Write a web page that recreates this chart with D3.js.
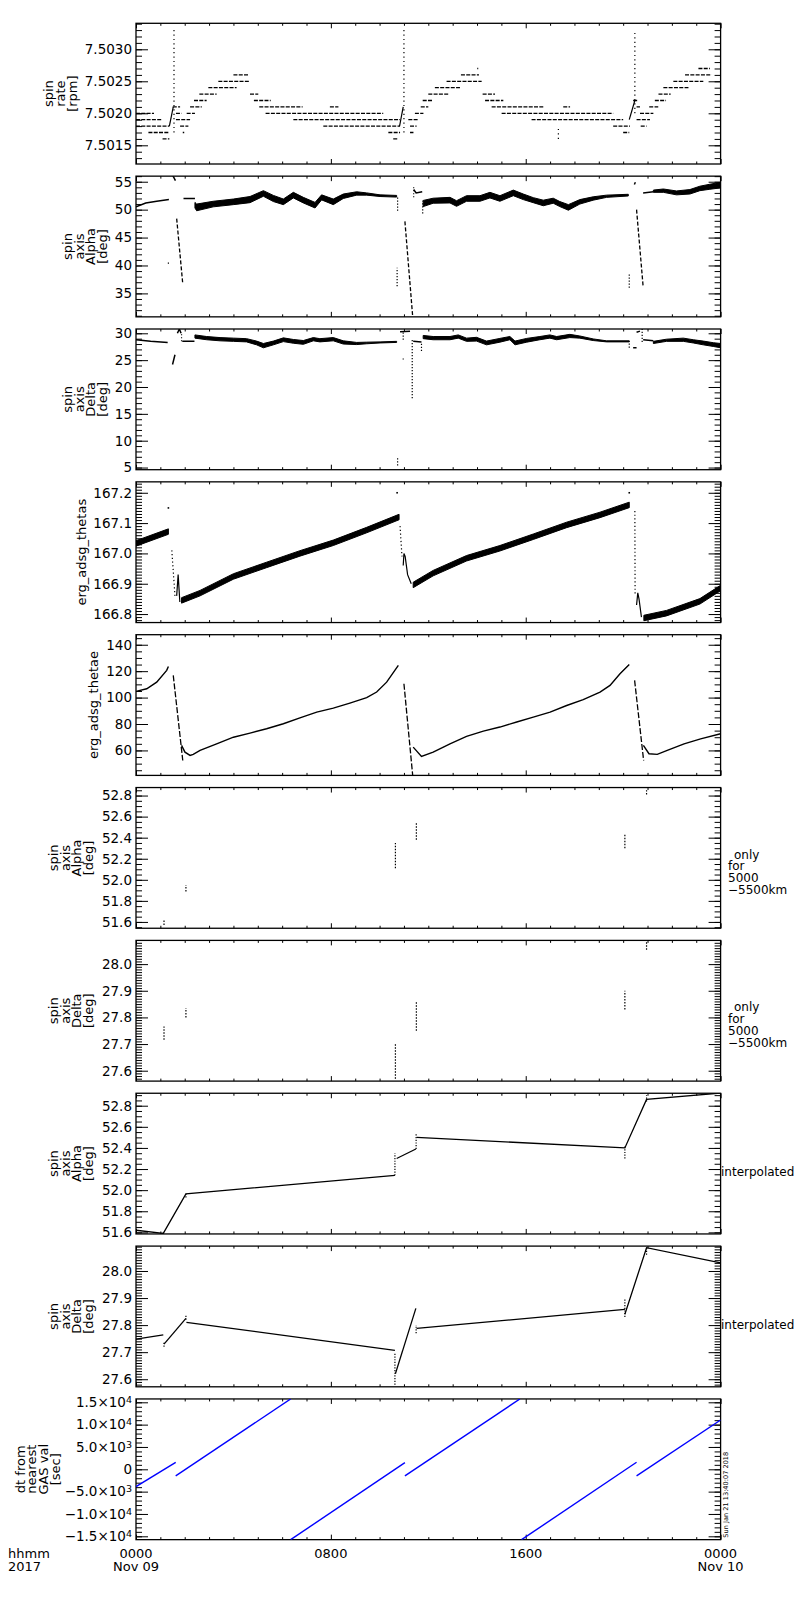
<!DOCTYPE html>
<html>
<head>
<meta charset="utf-8">
<script src="https://cdn.jsdelivr.net/npm/d3@7"></script>
<style>
  body { margin: 0; background: #fff; }
  text { font-family: "DejaVu Sans", sans-serif; fill: #000; }
</style>
</head>
<body>
<div id="chart"></div>
<script>
// time axis, hours from 2017-11-09 0000
const hourTicks = d3.range(0, 25);
const majorHours = [0, 8, 16, 24];
const hourLabels = ["0000", "0800", "1600", "0000"];
const dayLabels = ["Nov 09", "", "", "Nov 10"];

// panel 1: spin rate [rpm]; runs of quantised samples [from h, to h, rpm]
const rateDomain = [7.501208, 7.503406];
const rateTicks = [7.5015, 7.5020, 7.5025, 7.5030];
const rateRuns = [
  [0, 0.74, 7.5020], [0, 1.08, 7.5019], [0, 1.37, 7.5018], [0.51, 1.33, 7.5017], [1.09, 1.37, 7.5016],
  [1.51, 1.81, 7.5021], [1.64, 1.87, 7.5020], [2.08, 2.42, 7.5020], [1.64, 2.22, 7.5019], [1.81, 2.15, 7.5018], [1.92, 1.98, 7.5017],
  [2.22, 2.70, 7.5021], [2.38, 2.90, 7.5022], [2.60, 3.31, 7.5023], [2.97, 4.13, 7.5024], [3.38, 4.68, 7.5025], [4.00, 4.61, 7.5026],
  [4.68, 5.02, 7.5023], [4.84, 5.53, 7.5022], [5.06, 6.84, 7.5021], [7.96, 8.31, 7.5021], [5.32, 10.15, 7.5020],
  [6.46, 10.84, 7.5019], [7.69, 10.84, 7.5018], [10.36, 10.84, 7.5017], [10.56, 10.77, 7.5016],
  [11.18, 11.59, 7.5019], [11.25, 11.52, 7.5018], [11.25, 11.39, 7.5017], [11.45, 11.80, 7.5020], [11.69, 12.00, 7.5021],
  [11.77, 12.20, 7.5022], [12.00, 12.82, 7.5023], [12.27, 13.30, 7.5024], [12.75, 14.19, 7.5025], [13.34, 14.08, 7.5026], [14.01, 14.05, 7.5027],
  [14.23, 14.74, 7.5023], [14.33, 15.08, 7.5022], [14.60, 16.72, 7.5021], [17.54, 17.82, 7.5021], [15.01, 19.59, 7.5020],
  [16.24, 20.00, 7.5019], [19.59, 20.28, 7.5018], [20.00, 20.25, 7.5017],
  [20.41, 20.62, 7.5022], [20.55, 20.69, 7.5021], [21.07, 21.44, 7.5021], [20.69, 21.24, 7.5020], [20.55, 21.10, 7.5019], [20.72, 20.96, 7.5018],
  [21.30, 21.76, 7.5022], [21.45, 21.95, 7.5023], [21.65, 22.68, 7.5024], [22.06, 23.29, 7.5025], [22.54, 23.63, 7.5026], [23.09, 23.56, 7.5027]
];
const rateRamps = [[[1.37, 7.5018], [1.53, 7.5021]], [[10.82, 7.5018], [10.97, 7.5021]], [[20.25, 7.5019], [20.48, 7.5022]]];
const rateSpikes = [[1.56, 7.5017, 7.50331], [11.0, 7.5017, 7.5033], [17.34, 7.5016, 7.5018], [20.48, 7.5020, 7.5033]];

// panel 2: spin axis alpha [deg]; bands are [h, value, half width of scatter]
const alphaDomain = [30.8, 56.0];
const alphaTicks = [35, 40, 45, 50, 55];
const alphaBands = [
  [[2.42, 50.8, 0.5], [2.49, 50.4, 0.6], [3.17, 51.0, 0.5], [4.0, 51.4, 0.5], [4.68, 51.8, 0.55], [5.23, 52.9, 0.5], [5.64, 52.0, 0.55],
   [6.05, 51.4, 0.5], [6.46, 52.6, 0.5], [6.87, 51.7, 0.5], [7.35, 50.8, 0.5], [7.62, 52.2, 0.45], [8.10, 51.4, 0.5], [8.51, 52.4, 0.4],
   [9.06, 52.9, 0.3], [9.47, 52.8, 0.2], [10.02, 52.5, 0.15], [10.70, 52.4, 0.15]],
  [[11.79, 51.1, 0.55], [12.20, 51.6, 0.45], [12.89, 51.7, 0.5], [13.16, 51.1, 0.5], [13.57, 52.0, 0.5], [14.12, 52.0, 0.5], [14.53, 52.6, 0.5],
   [14.94, 52.0, 0.5], [15.49, 53.0, 0.5], [15.90, 52.3, 0.5], [16.31, 51.7, 0.45], [16.72, 51.2, 0.5], [17.13, 51.6, 0.45], [17.40, 51.0, 0.45],
   [17.75, 50.4, 0.5], [18.22, 51.4, 0.4], [18.77, 52.0, 0.3], [19.32, 52.4, 0.2], [20.21, 52.6, 0.15]],
  [[21.24, 53.3, 0.2], [21.65, 53.4, 0.3], [22.19, 53.0, 0.35], [22.74, 53.2, 0.4], [23.15, 53.8, 0.4], [23.56, 54.1, 0.45], [24.0, 54.4, 0.5]]
];
const alphaLines = [
  [[0, 50.5], [0.4, 51.2], [0.85, 51.5], [1.35, 51.8]], [[1.95, 52.0], [2.42, 52.0]], [[11.4, 53.6], [11.5, 53.0], [11.75, 53.2]],
  [[20.82, 53.0], [21.24, 53.2]], [[1.5, 56.2], [1.62, 55.2]], [[20.46, 54.5], [20.5, 54.9]]
];
const alphaDrops = [[[1.67, 48.4], [1.92, 36.7]], [[11.04, 47.9], [11.36, 30.8]], [[20.55, 50.0], [20.82, 36.2]]];
const alphaSticks = [[1.33, 40.3, 40.7], [10.72, 36.3, 39.6], [10.74, 49.8, 52.4], [11.4, 52.2, 54.2], [11.77, 49.3, 51.6], [20.25, 36.0, 38.5]];

// panel 3: spin axis delta [deg]
const deltaDomain = [4.6, 30.8];
const deltaTicks = [5, 10, 15, 20, 25, 30];
const deltaBands = [
  [[2.42, 29.4, 0.3], [2.90, 29.1, 0.3], [3.45, 28.9, 0.3], [4.0, 28.8, 0.3], [4.54, 28.7, 0.3], [4.95, 28.2, 0.35], [5.23, 27.7, 0.4],
   [5.64, 28.2, 0.35], [6.05, 28.8, 0.35], [6.46, 28.5, 0.35], [6.87, 28.3, 0.35], [7.28, 28.9, 0.3], [7.55, 28.7, 0.3], [8.10, 28.9, 0.3],
   [8.51, 28.3, 0.3], [9.06, 28.1, 0.2], [9.47, 28.2, 0.15], [10.02, 28.3, 0.1], [10.70, 28.4, 0.1]],
  [[11.79, 29.3, 0.3], [12.20, 29.1, 0.3], [12.89, 29.1, 0.3], [13.23, 29.4, 0.3], [13.57, 28.8, 0.3], [13.98, 28.9, 0.35], [14.39, 28.2, 0.35],
   [14.94, 28.7, 0.35], [15.35, 29.1, 0.3], [15.56, 28.2, 0.35], [16.04, 28.7, 0.35], [16.58, 29.1, 0.3], [16.99, 29.4, 0.3], [17.27, 29.1, 0.3],
   [17.81, 29.5, 0.3], [18.22, 29.3, 0.2], [18.77, 28.8, 0.15], [19.32, 28.5, 0.1], [20.25, 28.5, 0.1]],
  [[21.24, 28.3, 0.2], [21.78, 28.7, 0.2], [22.47, 28.8, 0.3], [22.88, 28.5, 0.3], [23.29, 28.2, 0.35], [23.70, 27.9, 0.35], [24.0, 27.7, 0.4]]
];
const deltaLines = [
  [[0, 28.8], [0.6, 28.5], [1.3, 28.3]], [[1.5, 24.2], [1.6, 26.0]], [[1.7, 30.0], [1.78, 30.8], [1.85, 30.0]], [[1.9, 28.5], [2.4, 28.5]],
  [[10.84, 30.3], [11.25, 30.4]], [[11.38, 28.5], [11.72, 28.4]], [[20.41, 27.3], [20.55, 27.3]], [[20.55, 30.2], [20.69, 30.4]],
  [[20.82, 28.8], [21.24, 28.6]]
];
const deltaSticks = [[1.87, 28.5, 30.0], [10.74, 5.4, 7.0], [10.97, 25.1, 25.3], [10.97, 28.8, 30.3], [11.34, 17.9, 28.8],
  [11.72, 26.7, 28.4], [20.25, 27.3, 28.5], [20.78, 28.4, 30.8]];

// panel 4: erg_adsg_thetas
const thetasDomain = [166.772, 167.236];
const thetasTicks = [166.8, 166.9, 167.0, 167.1, 167.2];
const thetasBands = [
  [[0, 167.033, 0.009], [1.33, 167.072, 0.009]],
  [[1.87, 166.845, 0.009], [2.63, 166.869, 0.009], [4.0, 166.924, 0.009], [5.36, 166.962, 0.009], [6.73, 167.0, 0.009],
   [8.1, 167.035, 0.009], [9.47, 167.077, 0.009], [10.8, 167.12, 0.009]],
  [[11.38, 166.896, 0.009], [12.2, 166.935, 0.009], [13.57, 166.984, 0.009], [14.94, 167.017, 0.009], [16.31, 167.055, 0.009],
   [17.68, 167.094, 0.009], [19.05, 167.127, 0.009], [20.25, 167.16, 0.009]],
  [[20.85, 166.787, 0.009], [21.78, 166.803, 0.009], [23.15, 166.842, 0.009], [24.0, 166.886, 0.009]]
];
const thetasLines = [
  [[1.67, 166.86], [1.73, 166.93], [1.80, 166.84]],
  [[10.97, 166.96], [11.0, 167.0], [11.05, 166.99], [11.15, 166.93], [11.3, 166.9]],
  [[20.55, 166.83], [20.6, 166.87], [20.65, 166.85], [20.75, 166.79]]
];
const thetasFalls = [[[1.47, 167.01], [1.60, 166.86]], [[10.84, 167.09], [10.92, 166.99]], [[20.48, 167.14], [20.49, 166.86]]];
const thetasDots = [[1.33, 167.15], [10.72, 167.2], [20.25, 167.2]];

// panel 5: erg_adsg_thetae
const thetaeDomain = [41.1, 147.6];
const thetaeTicks = [60, 80, 100, 120, 140];
const thetaeCurves = [
  [[0, 104.7], [0.44, 106.7], [0.85, 111.7], [1.26, 120.6], [1.33, 123.6]],
  [[1.87, 63.8], [2.01, 58.7], [2.22, 56.2], [2.35, 57.0], [2.63, 60.0], [3.31, 65.0], [4.0, 70.0], [4.68, 73.1], [5.36, 76.4],
   [6.05, 80.2], [6.73, 84.7], [7.42, 89.0], [8.10, 92.0], [8.78, 95.8], [9.47, 99.9], [9.88, 104.2], [10.29, 111.7], [10.77, 124.4]],
  [[11.38, 62.5], [11.72, 55.5], [12.2, 58.7], [12.89, 65.0], [13.57, 70.6], [14.26, 74.6], [14.94, 77.7], [15.63, 81.5], [16.31, 85.2],
   [17.0, 89.0], [17.68, 94.0], [18.36, 98.4], [19.05, 104.2], [19.46, 109.2], [19.87, 118.0], [20.25, 125.1]],
  [[20.83, 63.8], [21.06, 57.5], [21.40, 57.0], [21.81, 60.0], [22.50, 65.0], [23.18, 68.8], [24.0, 72.6]]
];
const thetaeDrops = [[[1.53, 116.8], [1.92, 52.4]], [[11.0, 110.5], [11.36, 41.0]], [[20.47, 113.0], [20.84, 52.4]]];

// panels 6-7: spin axis from 5000-5500 km only, [h, low, high]
const alphaOnlyDomain = [51.54, 52.876];
const alphaOnlyTicks = [51.6, 51.8, 52.0, 52.2, 52.4, 52.6, 52.8];
const alphaOnly = [[1.15, 51.57, 51.62], [2.05, 51.89, 51.95], [10.65, 52.11, 52.35], [11.51, 52.38, 52.55], [20.07, 52.30, 52.43], [20.96, 52.81, 52.85]];
const deltaOnlyDomain = [27.561, 28.089];
const deltaOnlyTicks = [27.6, 27.7, 27.8, 27.9, 28.0];
const deltaOnly = [[1.15, 27.716, 27.766], [2.05, 27.80, 27.835], [10.65, 27.57, 27.70], [11.51, 27.75, 27.86], [20.07, 27.83, 27.90], [20.96, 28.054, 28.085]];

// panels 8-9: interpolated
const alphaIntDomain = [51.585, 52.918];
const alphaInt = [
  [[0, 51.62], [1.12, 51.59], [2.05, 51.965], [10.63, 52.14]],
  [[10.7, 52.30], [11.49, 52.39]],
  [[11.52, 52.50], [20.07, 52.40], [20.96, 52.86], [24.0, 52.92]]
];
const alphaIntSticks = [[1.12, 51.57, 51.60], [2.05, 51.93, 51.97], [10.63, 52.14, 52.35], [11.50, 52.39, 52.54], [20.07, 52.30, 52.42], [20.96, 52.84, 52.90]];
const deltaIntDomain = [27.572, 28.092];
const deltaInt = [
  [[0, 27.748], [1.12, 27.764]], [[1.15, 27.73], [2.05, 27.825]], [[2.07, 27.81], [10.63, 27.707]],
  [[10.65, 27.62], [11.49, 27.862]], [[11.52, 27.788], [20.07, 27.858]], [[20.07, 27.84], [20.96, 28.086], [24.0, 28.03]]
];
const deltaIntSticks = [[1.15, 27.72, 27.74], [2.05, 27.82, 27.84], [10.63, 27.58, 27.70], [11.50, 27.77, 27.80], [20.07, 27.83, 27.90], [20.96, 28.06, 28.09]];

// panel 10: dt from nearest GAS val [sec]
const dtDomain = [-15750, 15750];
const dtTicks = [-15000, -10000, -5000, 0, 5000, 10000, 15000];
const dtLines = [
  [[0, -3880], [1.63, 1570]], [[1.63, -1490], [6.35, 15750]], [[6.35, -15750], [11.04, 1490]],
  [[11.04, -1490], [15.76, 15750]], [[15.83, -15750], [20.55, 1570]], [[20.55, -1490], [24.0, 11040]]
];

const W = 800, H = 1600;
const left = 136, pw = 584.6, top0 = 23.3, pitch = 152.85, ph = 140.7;

const svg = d3.select("#chart").append("svg").attr("width", W).attr("height", H);
svg.append("rect").attr("width", W).attr("height", H).attr("fill", "#fff");
const x = d3.scaleLinear().domain([0, 24]).range([0, pw]);

function minorTicks(domain, step) {
  return d3.range(Math.ceil(domain[0] / step - 1e-6), Math.floor(domain[1] / step + 1e-6) + 1).map(k => +(k * step).toFixed(6));
}

function addPanel(i, domain, major, step, fmt, title, titleX) {
  const top = top0 + i * pitch;
  const g = svg.append("g").attr("transform", `translate(${left},${top})`);
  const y = d3.scaleLinear().domain(domain).range([ph, 0]);
  const minor = minorTicks(domain, step);
  const minorH = hourTicks.filter(h => !majorHours.includes(h));

  const axes = [
    [d3.axisLeft(y).tickValues(major).tickSizeInner(-12).tickPadding(4).tickFormat(fmt), 0, 0, "ylab"],
    [d3.axisLeft(y).tickValues(minor).tickSizeInner(-6).tickFormat(""), 0, 0, ""],
    [d3.axisRight(y).tickValues(major).tickSizeInner(-12).tickFormat(""), pw, 0, ""],
    [d3.axisRight(y).tickValues(minor).tickSizeInner(-6).tickFormat(""), pw, 0, ""],
    [d3.axisBottom(x).tickValues(majorHours).tickSizeInner(-5).tickFormat(""), 0, ph, ""],
    [d3.axisBottom(x).tickValues(minorH).tickSizeInner(-2.5).tickFormat(""), 0, ph, ""],
    [d3.axisTop(x).tickValues(majorHours).tickSizeInner(-5).tickFormat(""), 0, 0, ""],
    [d3.axisTop(x).tickValues(minorH).tickSizeInner(-2.5).tickFormat(""), 0, 0, ""]
  ];
  axes.forEach(([ax, tx, ty, cls]) => {
    const a = g.append("g").attr("class", cls).attr("transform", `translate(${tx},${ty})`).call(ax.tickSizeOuter(0));
    a.select(".domain").remove();
    a.attr("font-family", null).attr("font-size", 13.5);
    a.selectAll("line").attr("stroke", "#000").attr("stroke-width", 1);
    if (!cls) a.selectAll("text").remove();
  });
  g.append("rect").attr("width", pw).attr("height", ph)
    .attr("fill", "none").attr("stroke", "#000").attr("stroke-width", 1.3);

  // rotated multi-line axis title
  const n = title.length, fs = 13, lp = 11.7;
  const t = svg.append("text")
    .attr("transform", `translate(${titleX},${top + ph / 2}) rotate(-90)`)
    .attr("text-anchor", "middle").attr("font-size", fs);
  title.forEach((s, k) => t.append("tspan").attr("x", 0).attr("y", (k - (n - 1) / 2) * lp + 0.35 * fs).text(s));

  svg.append("clipPath").attr("id", "clip" + i).append("rect").attr("width", pw).attr("height", ph);
  const m = g.append("g").attr("clip-path", `url(#clip${i})`);
  return { g, m, y, top };
}

function polyline(p, pts, opts = {}) {
  return p.m.append("path")
    .attr("d", d3.line().x(d => x(d[0])).y(d => p.y(d[1]))(pts))
    .attr("fill", "none").attr("stroke", opts.color || "#000")
    .attr("stroke-width", opts.width || 1.2)
    .attr("stroke-dasharray", opts.dash || null);
}
function band(p, pts) {
  p.m.append("path")
    .attr("d", d3.area().x(d => x(d[0])).y0(d => p.y(d[1] - d[2])).y1(d => p.y(d[1] + d[2]))(pts))
    .attr("fill", "#000").attr("stroke", "#000").attr("stroke-width", 1);
}
function sticks(p, data, dash) {
  p.m.selectAll(null).data(data).join("line")
    .attr("x1", d => x(d[0])).attr("x2", d => x(d[0]))
    .attr("y1", d => p.y(d[1])).attr("y2", d => p.y(d[2]))
    .attr("stroke", "#000").attr("stroke-width", 1.2).attr("stroke-dasharray", dash);
}

const f1 = d3.format(".1f"), f0 = d3.format("d");

// 1
const p1 = addPanel(0, rateDomain, rateTicks, 0.0001, d3.format(".4f"), ["spin", "rate", "[rpm]"], 60.5);
p1.m.selectAll(null).data(rateRuns).join("line")
  .attr("x1", d => x(d[0])).attr("x2", d => x(d[1]))
  .attr("y1", d => p1.y(d[2])).attr("y2", d => p1.y(d[2]))
  .attr("stroke", "#000").attr("stroke-width", 1.3).attr("stroke-dasharray", "4,1.3");
rateRamps.forEach(r => polyline(p1, r));
sticks(p1, rateSpikes, "1.2,3.2");

// 2
const p2 = addPanel(1, alphaDomain, alphaTicks, 1, f0, ["spin", "axis", "Alpha", "[deg]"], 85);
alphaBands.forEach(b => band(p2, b));
alphaLines.forEach(l => polyline(p2, l, { width: 1.5 }));
alphaDrops.forEach(l => polyline(p2, l, { width: 1.3, dash: "4,2" }));
sticks(p2, alphaSticks, "1.2,1.8");

// 3
const p3 = addPanel(2, deltaDomain, deltaTicks, 1, f0, ["spin", "axis", "Delta", "[deg]"], 85);
deltaBands.forEach(b => band(p3, b));
deltaLines.forEach(l => polyline(p3, l, { width: 1.5 }));
sticks(p3, deltaSticks, "1.2,1.8");

// 4
const p4 = addPanel(3, thetasDomain, thetasTicks, 0.01, f1, ["erg_adsg_thetas"], 81);
thetasBands.forEach(b => band(p4, b));
thetasLines.forEach(l => polyline(p4, l, { width: 1.2 }));
thetasFalls.forEach(l => polyline(p4, l, { width: 1.2, dash: "1.2,2.5" }));
p4.m.selectAll(null).data(thetasDots).join("rect")
  .attr("x", d => x(d[0]) - 0.8).attr("y", d => p4.y(d[1]) - 0.8).attr("width", 1.6).attr("height", 1.6).attr("fill", "#000");

// 5
const p5 = addPanel(4, thetaeDomain, thetaeTicks, 5, f0, ["erg_adsg_thetae"], 93);
thetaeCurves.forEach(c => polyline(p5, c, { width: 1.4 }));
thetaeDrops.forEach(c => polyline(p5, c, { width: 1.3, dash: "6,2" }));

// 6, 7
const only = ["only", "for", "5000", "\u22125500km"];
const p6 = addPanel(5, alphaOnlyDomain, alphaOnlyTicks, 0.05, f1, ["spin", "axis", "Alpha", "[deg]"], 71);
sticks(p6, alphaOnly, "1.5,1.5");
const p7 = addPanel(6, deltaOnlyDomain, deltaOnlyTicks, 0.01, f1, ["spin", "axis", "Delta", "[deg]"], 71);
sticks(p7, deltaOnly, "1.5,1.5");
[p6, p7].forEach(p => {
  only.forEach((s, k) => svg.append("text").attr("x", k === 0 ? 734 : 728).attr("y", p.top + 71 + k * 11.7)
    .attr("font-size", 12).text(s));
});

// 8, 9
const p8 = addPanel(7, alphaIntDomain, alphaOnlyTicks, 0.05, f1, ["spin", "axis", "Alpha", "[deg]"], 71);
alphaInt.forEach(l => polyline(p8, l, { width: 1.3 }));
sticks(p8, alphaIntSticks, "1.2,1.5");
const p9 = addPanel(8, deltaIntDomain, deltaOnlyTicks, 0.01, f1, ["spin", "axis", "Delta", "[deg]"], 71);
deltaInt.forEach(l => polyline(p9, l, { width: 1.3 }));
sticks(p9, deltaIntSticks, "1.2,1.5");
[p8, p9].forEach(p => svg.append("text").attr("x", 721).attr("y", p.top + 83).attr("font-size", 12).text("interpolated"));

// 10
const p10 = addPanel(9, dtDomain, dtTicks, 1000, f0, ["dt from", "nearest", "GAS val", "[sec]"], 37.5);
dtLines.forEach(l => polyline(p10, l, { color: "#0000ff", width: 1.4 }));
p10.g.selectAll(".ylab .tick text").each(function (v) {
  const t = d3.select(this);
  t.text(null);
  if (v === 0) { t.text("0"); return; }
  const e = Math.floor(Math.log10(Math.abs(v)));
  const mant = (Math.abs(v) / Math.pow(10, e)).toFixed(1);
  t.append("tspan").text((v < 0 ? "\u2212" : "") + mant + "\u00d710");
  t.append("tspan").attr("dy", "-0.45em").attr("font-size", 9.5).text(e);
});

// time axis labels
const baseY = p10.top + ph;
majorHours.forEach((h, k) => {
  svg.append("text").attr("x", left + x(h)).attr("y", baseY + 18).attr("text-anchor", "middle").attr("font-size", 13).text(hourLabels[k]);
  if (dayLabels[k]) svg.append("text").attr("x", left + x(h)).attr("y", baseY + 31.5).attr("text-anchor", "middle").attr("font-size", 13).text(dayLabels[k]);
});
svg.append("text").attr("x", 8).attr("y", baseY + 18).attr("font-size", 13).text("hhmm");
svg.append("text").attr("x", 8).attr("y", baseY + 31.5).attr("font-size", 13).text("2017");

// time stamp
svg.append("text").attr("transform", `translate(727.5,${baseY - 2}) rotate(-90)`)
  .attr("font-size", 6.6).text("Sun Jan 21 13:40:07 2018");
</script>
</body>
</html>
